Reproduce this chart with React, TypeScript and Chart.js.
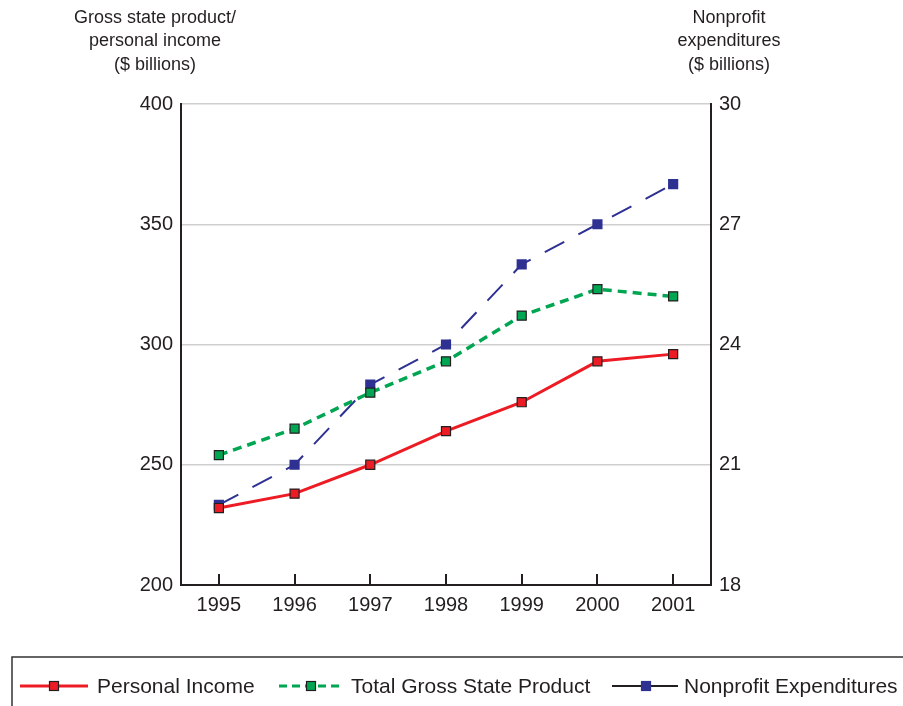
import React, { useEffect, useRef } from "react";
import { Chart, registerables } from "chart.js";

Chart.register(...registerables);

const years = ["1995", "1996", "1997", "1998", "1999", "2000", "2001"];
const personalIncome = [232, 238, 250, 264, 276, 293, 296];
const grossStateProduct = [254, 265, 280, 293, 312, 323, 320];
const nonprofitExpenditures = [20, 21, 23, 24, 26, 27, 28];
const leftTicks = [200, 250, 300, 350, 400];
const rightTicks = [18, 21, 24, 27, 30];
const leftTitle = ["Gross state product/", "personal income", "($ billions)"];
const rightTitle = ["Nonprofit", "expenditures", "($ billions)"];

const FONT = '"Liberation Sans", Arial, Helvetica, sans-serif';
const TEXT = "#231f20";
const RED = "#ed1c24";
const GREEN = "#00a651";
const BLUE = "#2e3192";

const decorPlugin = {
  id: "decor",
  afterDraw(chart: any) {
    const ctx = chart.ctx as CanvasRenderingContext2D;
    const area = chart.chartArea;
    const xs = chart.scales.x;
    ctx.save();
    // inward x-axis tick marks
    ctx.strokeStyle = TEXT;
    ctx.lineWidth = 2;
    years.forEach((_, i) => {
      const x = Math.round(xs.getPixelForValue(i));
      ctx.beginPath();
      ctx.moveTo(x, area.bottom);
      ctx.lineTo(x, area.bottom - 11);
      ctx.stroke();
    });
    // axis titles
    ctx.fillStyle = TEXT;
    ctx.font = `18px ${FONT}`;
    ctx.textAlign = "center";
    ctx.textBaseline = "middle";
    leftTitle.forEach((t, i) => ctx.fillText(t, 155, 18 + i * 23.5));
    rightTitle.forEach((t, i) => ctx.fillText(t, 729, 18 + i * 23.5));
    // legend box
    ctx.strokeStyle = "#333333";
    ctx.lineWidth = 1.5;
    ctx.beginPath();
    ctx.moveTo(903, 657);
    ctx.lineTo(12, 657);
    ctx.lineTo(12, 706);
    ctx.stroke();
    // legend items
    const ds = chart.data.datasets;
    const items = [
      { x1: 20, x2: 88, mx: 54, tx: 97, line: RED, width: 3, dash: [] as number[], fill: RED, border: TEXT, size: 9, label: ds[0].label },
      { x1: 279, x2: 342, mx: 311, tx: 351, line: GREEN, width: 3, dash: [8, 5], fill: GREEN, border: TEXT, size: 9, label: ds[1].label },
      { x1: 612, x2: 678, mx: 646, tx: 684, line: TEXT, width: 2, dash: [] as number[], fill: BLUE, border: BLUE, size: 9, label: ds[2].label },
    ];
    const ly = 686;
    items.forEach((it) => {
      ctx.strokeStyle = it.line;
      ctx.lineWidth = it.width;
      ctx.setLineDash(it.dash);
      ctx.beginPath();
      ctx.moveTo(it.x1, ly);
      ctx.lineTo(it.x2, ly);
      ctx.stroke();
      ctx.setLineDash([]);
      ctx.fillStyle = it.fill;
      ctx.fillRect(it.mx - it.size / 2, ly - it.size / 2, it.size, it.size);
      ctx.strokeStyle = it.border;
      ctx.lineWidth = 1.2;
      ctx.strokeRect(it.mx - it.size / 2, ly - it.size / 2, it.size, it.size);
      ctx.fillStyle = TEXT;
      ctx.font = `21px ${FONT}`;
      ctx.textAlign = "left";
      ctx.textBaseline = "alphabetic";
      ctx.fillText(it.label, it.tx, 693);
    });
    ctx.restore();
  },
};

export default function App() {
  const ref = useRef<HTMLCanvasElement | null>(null);
  useEffect(() => {
    if (!ref.current) return;
    const chart = new Chart(ref.current, {
      type: "line",
      data: {
        labels: years,
        datasets: [
          {
            label: "Personal Income",
            data: personalIncome,
            yAxisID: "y",
            borderColor: RED,
            backgroundColor: RED,
            borderWidth: 3,
            tension: 0,
            pointStyle: "rect",
            pointRadius: 6.4,
            pointBackgroundColor: RED,
            pointBorderColor: TEXT,
            pointBorderWidth: 1.2,
          },
          {
            label: "Total Gross State Product",
            data: grossStateProduct,
            yAxisID: "y",
            borderColor: GREEN,
            backgroundColor: GREEN,
            borderWidth: 3.5,
            borderDash: [9, 6],
            tension: 0,
            pointStyle: "rect",
            pointRadius: 6.4,
            pointBackgroundColor: GREEN,
            pointBorderColor: TEXT,
            pointBorderWidth: 1.2,
          },
          {
            label: "Nonprofit Expenditures",
            data: nonprofitExpenditures,
            yAxisID: "y2",
            borderColor: BLUE,
            backgroundColor: BLUE,
            borderWidth: 2,
            borderDash: [22, 16],
            tension: 0,
            pointStyle: "rect",
            pointRadius: 7.2,
            pointBackgroundColor: BLUE,
            pointBorderColor: BLUE,
            pointBorderWidth: 0,
          },
        ],
      },
      options: {
        responsive: false,
        animation: false,
        events: [],
        layout: { padding: { top: 104, left: 0, right: 0, bottom: 80 } },
        plugins: { legend: { display: false }, tooltip: { enabled: false }, title: { display: false } },
        scales: {
          x: {
            type: "category",
            offset: true,
            grid: { display: true, drawOnChartArea: false, drawTicks: false },
            border: { display: true, color: TEXT, width: 2 },
            ticks: { color: TEXT, font: { family: FONT, size: 20 }, padding: 8, maxRotation: 0 },
            afterFit(scale: any) {
              scale.height = 41;
            },
          },
          y: {
            position: "left",
            min: 200,
            max: 400,
            afterBuildTicks(scale: any) {
              scale.ticks = leftTicks.map((v) => ({ value: v }));
            },
            grid: { color: "#cfcfcf", lineWidth: 1.5, drawTicks: false },
            border: { display: true, color: TEXT, width: 2 },
            ticks: { color: TEXT, font: { family: FONT, size: 20 }, padding: 8 },
            afterFit(scale: any) {
              scale.width = 181;
            },
          },
          y2: {
            position: "right",
            min: 18,
            max: 30,
            afterBuildTicks(scale: any) {
              scale.ticks = rightTicks.map((v) => ({ value: v }));
            },
            grid: { drawOnChartArea: false, drawTicks: false },
            border: { display: true, color: TEXT, width: 2 },
            ticks: { color: TEXT, font: { family: FONT, size: 20 }, padding: 8 },
            afterFit(scale: any) {
              scale.width = 192;
            },
          },
        },
      },
      plugins: [decorPlugin],
    });
    return () => chart.destroy();
  }, []);
  return (
    <div style={{ position: "fixed", left: 0, top: 0, width: 903, height: 706, background: "#fff" }}>
      <canvas ref={ref} width={903} height={706} style={{ display: "block" }} />
    </div>
  );
}
